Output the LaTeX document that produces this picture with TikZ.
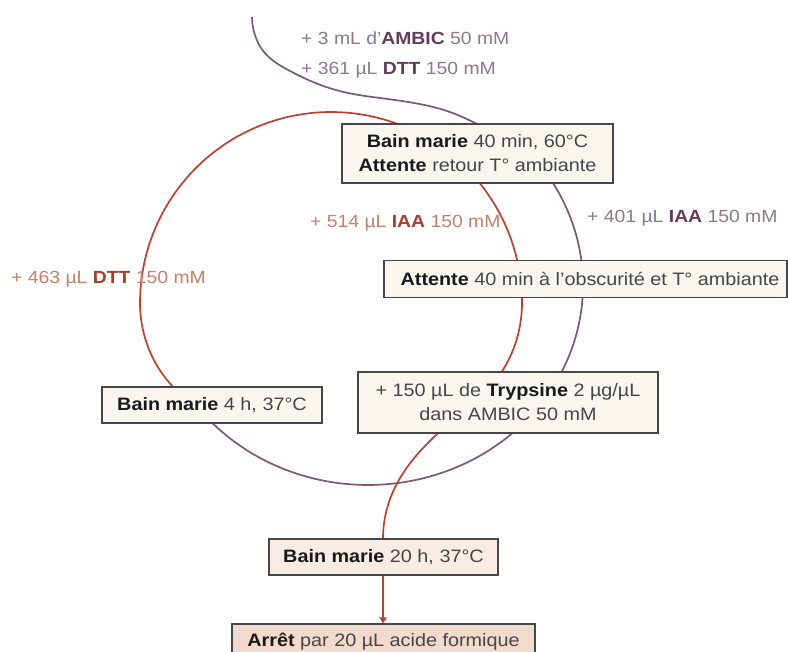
\documentclass[tikz,border=0pt]{standalone}
\usepackage{fontspec}
\setmainfont[FakeStretch=1.1]{Liberation Sans}
\usetikzlibrary{arrows.meta,hobby}
\definecolor{redline}{RGB}{192,64,48}
\definecolor{purpline}{RGB}{122,88,122}
\definecolor{oregtxt}{RGB}{196,128,104}
\definecolor{oboldtxt}{RGB}{170,60,45}
\definecolor{pregtxt}{RGB}{140,120,136}
\definecolor{pboldtxt}{RGB}{100,60,90}
\definecolor{boxfill}{RGB}{249,246,240}
\definecolor{boxfillpink}{RGB}{249,236,228}
\definecolor{boxfilltan}{RGB}{242,218,204}
\definecolor{boxdraw}{RGB}{70,70,70}
\definecolor{regtxt}{RGB}{70,70,70}
\definecolor{boldtxt}{RGB}{25,25,25}
\tikzset{
  x=1pt, y=-1pt,
  stepbox/.style={draw=boxdraw, line width=1.1pt, fill=boxfill, inner sep=0pt, align=center,
    font=\fontsize{18}{24}\selectfont, text=regtxt},
  olabel/.style={font=\fontsize{17.6}{24}\selectfont, text=oregtxt, inner sep=0pt, anchor=west},
  plabel/.style={font=\fontsize{17.6}{24}\selectfont, text=pregtxt, inner sep=0pt, anchor=west},
  redpath/.style={draw=redline, line width=1.7pt},
  purppath/.style={draw=purpline, line width=1.7pt},
}
\newcommand{\bk}[1]{\textbf{\color{boldtxt}#1}}
\newcommand{\bo}[1]{\textbf{\color{oboldtxt}#1}}
\newcommand{\bp}[1]{\textbf{\color{pboldtxt}#1}}
\begin{document}
\begin{tikzpicture}
\useasboundingbox (0,0) rectangle (788,652);
\coordinate (start) at (252,17);
\coordinate (pjoin) at (542,167);
% purple curve: S-bend into box 1, then elliptic arc down to "Bain marie 4 h"
\draw[purppath] (start) to[curve through={(256,38) (264,52) (290,71) (318,84) (348,93) (380,98) (414,103) (447,111) (477,124)}] (pjoin)
  plot[smooth, domain=-36:138, samples=90] ({368+215*cos(\x)},{285+200*sin(\x)});
% red curve: from "Bain marie 4 h" round the circle into the trypsin box, then down
\draw[redpath] plot[smooth, domain=150:385, samples=120]
  ({331+(191-14*(max(0,180-\x)/30)^2-9*(max(0,\x-360)/25)^2)*cos(\x)},{303+(191-14*(max(0,180-\x)/30)^2-9*(max(0,\x-360)/25)^2)*sin(\x)})
  .. controls (462,420) and (383,458) .. (383,539) coordinate (rend);
% boxes
\node[stepbox, minimum width=271pt, minimum height=59pt] (b1) at (477.5,153.5)
  {\bk{Bain marie} 40 min, 60°C\\\bk{Attente} retour T° ambiante};
\node[stepbox, minimum width=403pt, minimum height=37pt] (b2) at (585.5,279)
  {\hspace*{9pt}\bk{Attente} 40 min à l’obscurité et T° ambiante};
\node[stepbox, minimum width=220pt, minimum height=36pt] (b3) at (212,405)
  {\bk{Bain marie} 4 h, 37°C};
\node[stepbox, minimum width=300pt, minimum height=61pt] (b4) at (508,402.5)
  {+ 150 µL de \bk{Trypsine} 2 µg/µL\\dans AMBIC 50 mM};
\node[stepbox, fill=boxfillpink, minimum width=229pt, minimum height=36pt] (b5) at (383.5,557)
  {\bk{Bain marie} 20 h, 37°C};
\node[stepbox, fill=boxfilltan, minimum width=303pt, minimum height=36pt] (b6) at (383.5,642)
  {\bk{Arrêt} par 20 µL acide formique};
\draw[draw=redline, line width=1.7pt, -{Triangle[length=6pt,width=7pt]}] (b5.south -| rend) -- (b6.north -| rend);
% labels
\node[plabel] (l1) at (301,38) {+ 3 mL d’\bp{AMBIC} 50 mM};
\node[plabel] (l2) at (301,70) {+ 361 µL \bp{DTT} 150 mM};
\node[olabel] (l3) at (310,223) {+ 514 µL \bo{IAA} 150 mM};
\node[plabel] (l4) at (587,218) {+ 401 µL \bp{IAA} 150 mM};
\node[olabel] (l5) at (11,279) {+ 463 µL \bo{DTT} 150 mM};
\end{tikzpicture}
\end{document}
